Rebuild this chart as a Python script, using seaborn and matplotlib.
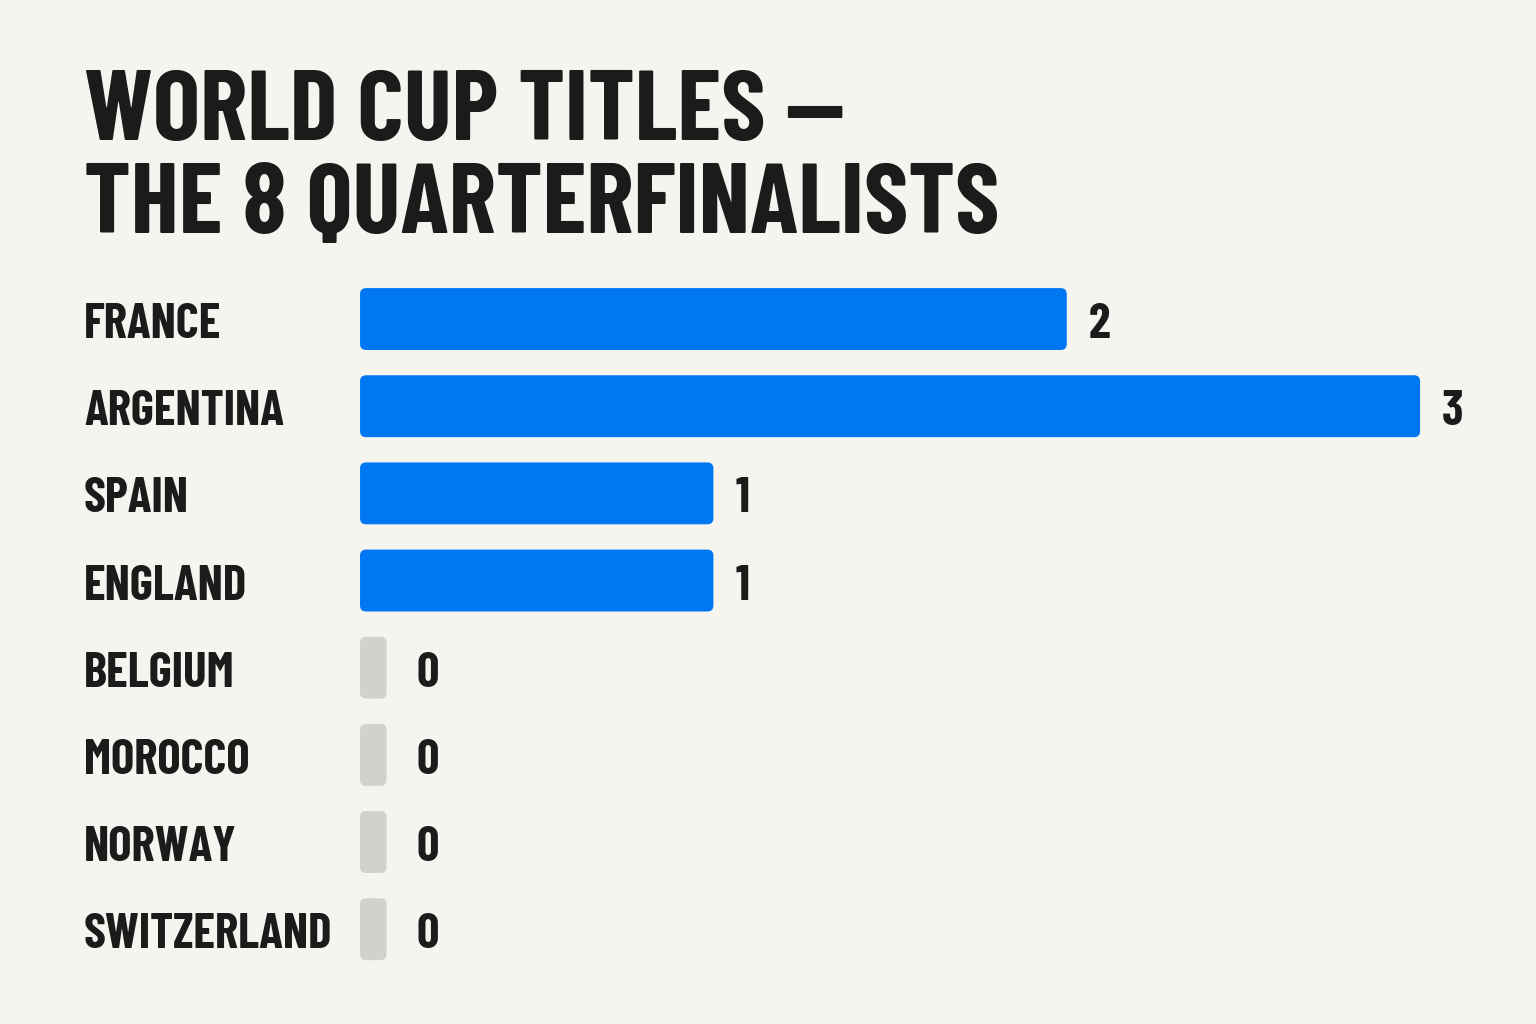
import pandas as pd
import numpy as np
import matplotlib
matplotlib.use("Agg")
import matplotlib.pyplot as plt
import matplotlib.transforms as mtransforms
from matplotlib.patches import FancyBboxPatch
import seaborn as sns

# data
countries = ["FRANCE", "ARGENTINA", "SPAIN", "ENGLAND",
             "BELGIUM", "MOROCCO", "NORWAY", "SWITZERLAND"]
titles = [2, 3, 1, 1, 0, 0, 0, 0]
title_lines = ["WORLD CUP TITLES —", "THE 8 QUARTERFINALISTS"]

BG = "#F6F4EF"
BLUE = "#0077F2"
GREY = "#D3D1CC"
INK = "#1B1B1B"
STUB = 0.075  # zero rows still get a small grey stub

df = pd.DataFrame({"country": countries, "titles": titles})
df["shown"] = df["titles"].clip(lower=STUB)
palette = {c: (BLUE if t > 0 else GREY) for c, t in zip(countries, titles)}

sns.set_theme(style="white")
plt.rcParams["font.family"] = ["Barlow Condensed", "Roboto Condensed", "DejaVu Sans"]
plt.rcParams["font.weight"] = "bold"

fig = plt.figure(figsize=(15.36, 10.24), dpi=100, facecolor=BG)
ax = fig.add_axes([0.2344, 0.050, 0.7292, 0.681])
ax.set_facecolor(BG)

sns.barplot(data=df, y="country", x="shown", hue="country", palette=palette,
            orient="h", width=0.71, legend=False, ax=ax, saturation=1)

ax.set_xlim(0, 3 * 1120 / 1060)
ax.set_ylim(len(countries) - 0.5, -0.5)
sns.despine(ax=ax, left=True, bottom=True)
ax.set_xticks([])
ax.set_yticks([])
ax.set_xlabel("")
ax.set_ylabel("")

# swap the plain rectangles for rounded ones
fig.canvas.draw()
bb = ax.get_window_extent()
xu = (ax.get_xlim()[1] - ax.get_xlim()[0]) / bb.width
yu = abs(ax.get_ylim()[1] - ax.get_ylim()[0]) / bb.height
for p in list(ax.patches):
    x, y = p.get_x(), p.get_y()
    w, h = p.get_width(), p.get_height()
    fc = p.get_facecolor()
    p.remove()
    ax.add_patch(FancyBboxPatch((x, y), w, h,
                                boxstyle=f"round,pad=0,rounding_size={6 * xu}",
                                mutation_aspect=yu / xu,
                                facecolor=fc, edgecolor="none"))

# country names on the left, values after the bars (baseline 19px below row centre)
blend = mtransforms.blended_transform_factory(fig.transFigure, ax.transData)
blend = mtransforms.offset_copy(blend, fig=fig, x=0, y=-19, units="dots")
for i, (c, t) in enumerate(zip(countries, titles)):
    ax.text(84 / 1536, i, c, transform=blend, ha="left", va="baseline",
            fontsize=35.5, fontweight="bold", color=INK)
    end = max(t, STUB)
    gap = 22 if t > 0 else 30
    ax.annotate(str(t), (end, i), xytext=(gap * 0.72, -19 * 0.72),
                textcoords="offset points", ha="left", va="baseline",
                fontsize=35.5, fontweight="bold", color=INK)

fig.text(84 / 1536, 1 - 140 / 1024, title_lines[0], ha="left", va="baseline",
         fontsize=72, fontweight="bold", color=INK)
fig.text(84 / 1536, 1 - 233 / 1024, title_lines[1], ha="left", va="baseline",
         fontsize=72, fontweight="bold", color=INK)

fig.savefig("out.png", dpi=100, facecolor=BG)
